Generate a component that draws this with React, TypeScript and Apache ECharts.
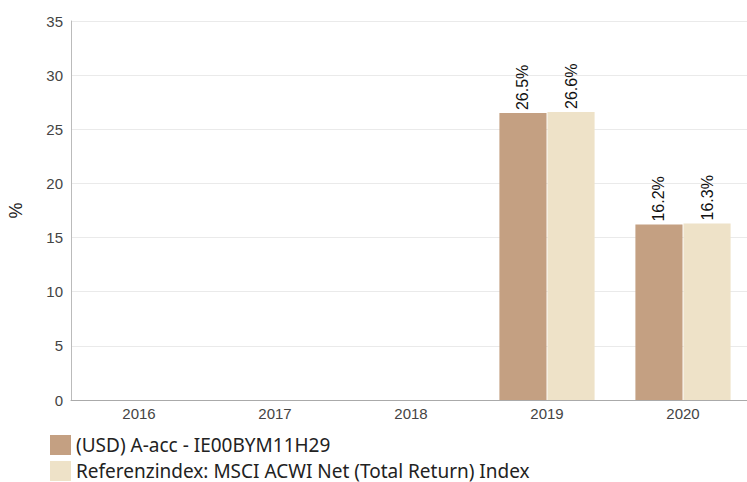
import React, { useEffect, useRef } from "react";
import * as echarts from "echarts";

const categories = ["2016", "2017", "2018", "2019", "2020"];
const fundValues: (number | null)[] = [null, null, null, 26.5, 16.2];
const indexValues: (number | null)[] = [null, null, null, 26.6, 16.3];
const seriesNames = ["(USD) A-acc - IE00BYM11H29", "Referenzindex: MSCI ACWI Net (Total Return) Index"];
const colors = ["#C4A082", "#EEE2C8"];

export default function App() {
  const ref = useRef<HTMLDivElement>(null);
  useEffect(() => {
    if (!ref.current) return;
    const chart = echarts.init(ref.current, undefined, { renderer: "svg" });
    const label = {
      show: true,
      position: "top",
      rotate: 90,
      align: "left",
      verticalAlign: "middle",
      distance: 3,
      color: "#111",
      fontSize: 16,
      fontFamily: "Arial, Liberation Sans, sans-serif",
      formatter: (p: any) => p.value.toFixed(1) + "%",
    };
    chart.setOption({
      animation: false,
      color: colors,
      grid: { left: 71, right: -4, top: 21, bottom: 82, containLabel: false, outerBoundsMode: "none" },
      legend: {
        orient: "vertical",
        left: 50,
        top: 435,
        padding: 0,
        itemWidth: 21,
        itemHeight: 20,
        itemGap: 6,
        icon: "rect",
        textStyle: { fontSize: 19, lineHeight: 20, color: "#222", fontFamily: "Noto Sans, Open Sans, sans-serif", padding: [0, 0, 0, 0] },
        data: seriesNames,
      },
      xAxis: {
        type: "category",
        data: categories,
        axisLine: { lineStyle: { color: "#aaa" } },
        axisTick: { show: false },
        axisLabel: { fontSize: 15, color: "#444", margin: 6, fontFamily: "Arial, Liberation Sans, sans-serif" },
      },
      yAxis: {
        type: "value",
        min: 0,
        max: 35,
        interval: 5,
        name: "%",
        nameLocation: "middle",
        nameGap: 46,
        nameRotate: 90,
        nameTextStyle: { fontSize: 18, color: "#222", fontFamily: "Arial, Liberation Sans, sans-serif" },
        axisLine: { show: true, lineStyle: { color: "#bbb" } },
        axisTick: { show: false },
        axisLabel: { fontSize: 15, color: "#444", margin: 8, fontFamily: "Arial, Liberation Sans, sans-serif" },
        splitLine: { lineStyle: { color: "#eaeaea" } },
      },
      series: [
        { name: seriesNames[0], type: "bar", data: fundValues, barGap: "2%", barCategoryGap: "30%", label },
        { name: seriesNames[1], type: "bar", data: indexValues, barGap: "2%", barCategoryGap: "30%", label },
      ],
    });
    return () => chart.dispose();
  }, []);
  return <div ref={ref} style={{ width: 747, height: 482, position: "absolute", left: 0, top: 0 }} />;
}
